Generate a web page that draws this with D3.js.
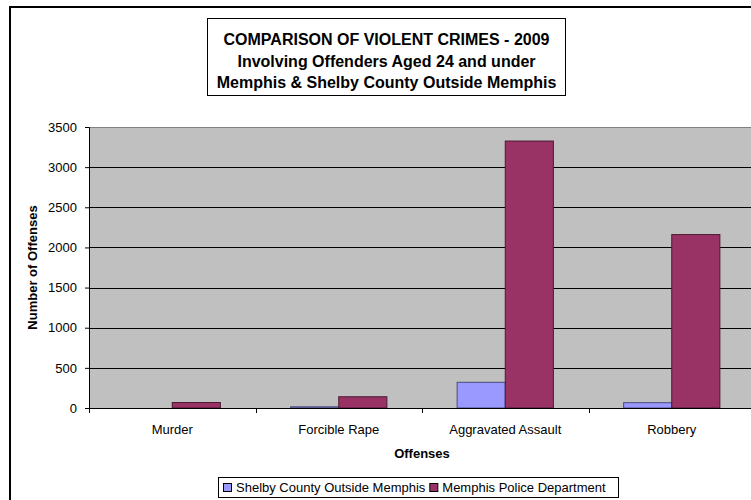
<!DOCTYPE html>
<html>
<head>
<meta charset="utf-8">
<script src="https://cdn.jsdelivr.net/npm/d3@7"></script>
<style>
  body { margin: 0; background: #fff; }
  svg { display: block; font-family: "Liberation Sans", Arial, sans-serif; }
</style>
</head>
<body>
<script>
// chart data
var categories = ["Murder", "Forcible Rape", "Aggravated Assault", "Robbery"];
var seriesNames = ["Shelby County Outside Memphis", "Memphis Police Department"];
var shelbyValues = [0, 15, 320, 66];
var memphisValues = [68, 140, 3325, 2160];
var yTicks = [0, 500, 1000, 1500, 2000, 2500, 3000, 3500];
var titleLines = ["COMPARISON OF VIOLENT CRIMES - 2009",
                  "Involving Offenders Aged 24 and under",
                  "Memphis & Shelby County Outside Memphis"];

var colors = ["#9999ff", "#993366"];

var W = 751, H = 500;
var margin = {top: 127, right: -4, bottom: 92, left: 89},
    width = W - margin.left - margin.right,
    height = H - margin.top - margin.bottom;

var svg = d3.select("body").append("svg")
    .attr("width", W)
    .attr("height", H);

// outer chart frame (runs off the right/bottom of the picture)
svg.append("rect")
    .attr("x", 10).attr("y", 7)
    .attr("width", 800).attr("height", 600)
    .attr("fill", "#fff")
    .attr("stroke", "#000")
    .attr("stroke-width", 2);

var g = svg.append("g")
    .attr("transform", "translate(" + margin.left + "," + margin.top + ")");

var x = d3.scaleBand()
    .domain(categories)
    .range([0, width]);

var x1 = d3.scaleBand()
    .domain([0, 1])
    .range([0, x.bandwidth()])
    .paddingOuter(0.73);

var y = d3.scaleLinear()
    .domain([0, 3500])
    .range([height, 0]);

// plot background
g.append("rect")
    .attr("width", width)
    .attr("height", height)
    .attr("fill", "#c0c0c0");

// top border of the plot area
g.append("line")
    .attr("x1", 0).attr("x2", width)
    .attr("y1", 0.5).attr("y2", 0.5)
    .attr("stroke", "#808080");

// gridlines
g.selectAll(".grid")
    .data(yTicks.filter(function(d) { return d > 0 && d < 3500; }))
    .enter().append("line")
    .attr("x1", 0).attr("x2", width)
    .attr("y1", function(d) { return Math.round(y(d)) + 0.5; })
    .attr("y2", function(d) { return Math.round(y(d)) + 0.5; })
    .attr("stroke", "#000");

// bars
var series = [shelbyValues, memphisValues];
series.forEach(function(vals, si) {
    g.selectAll(".bar" + si)
        .data(vals)
        .enter().append("rect")
        .attr("x", function(d, i) { return x(categories[i]) + x1(si); })
        .attr("y", function(d) { return y(d); })
        .attr("width", x1.bandwidth())
        .attr("height", function(d) { return height - y(d); })
        .attr("fill", colors[si])
        .attr("stroke", d3.color(colors[si]).darker(2))
        .attr("stroke-width", 1)
        .attr("display", function(d) { return d > 0 ? null : "none"; });
});

// y axis
var yAxis = g.append("g")
    .call(d3.axisLeft(y).tickValues(yTicks).tickSize(4).tickPadding(8).tickFormat(d3.format("d")));
yAxis.select(".domain").attr("stroke", "#000");
yAxis.selectAll("text").attr("font-size", 13).attr("font-family", "Liberation Sans, Arial, sans-serif").attr("fill", "#000");

// x axis
var xAxis = g.append("g")
    .attr("transform", "translate(0," + height + ")")
    .call(d3.axisBottom(x).tickSize(0).tickPadding(17));
xAxis.select(".domain").attr("stroke", "#000");
xAxis.selectAll("text").attr("font-size", 13).attr("font-family", "Liberation Sans, Arial, sans-serif").attr("fill", "#000");
// category separator ticks
g.selectAll(".xtick")
    .data(categories)
    .enter().append("line")
    .attr("x1", function(d) { return Math.round(x(d)) + 0.5; })
    .attr("x2", function(d) { return Math.round(x(d)) + 0.5; })
    .attr("y1", height).attr("y2", height + 5)
    .attr("stroke", "#000");

// axis titles
svg.append("text")
    .attr("transform", "translate(37," + (margin.top + height / 2) + ") rotate(-90)")
    .attr("text-anchor", "middle")
    .attr("font-size", 13)
    .attr("font-weight", "bold")
    .text("Number of Offenses");

svg.append("text")
    .attr("x", margin.left + width / 2)
    .attr("y", 458)
    .attr("text-anchor", "middle")
    .attr("font-size", 13)
    .attr("font-weight", "bold")
    .text("Offenses");

// title box
var titleG = svg.append("g");
titleG.append("rect")
    .attr("x", 207.5).attr("y", 18.5)
    .attr("width", 358).attr("height", 77)
    .attr("fill", "#fff")
    .attr("stroke", "#000");
titleG.selectAll("text")
    .data(titleLines)
    .enter().append("text")
    .attr("x", 386.5)
    .attr("y", function(d, i) { return 45 + i * 21.5; })
    .attr("text-anchor", "middle")
    .attr("font-size", 16)
    .attr("font-weight", "bold")
    .text(function(d) { return d; });

// legend
var legend = svg.append("g");
legend.append("rect")
    .attr("x", 218.5).attr("y", 477.5)
    .attr("width", 400).attr("height", 20)
    .attr("fill", "#fff")
    .attr("stroke", "#000");
var lx = 223;
seriesNames.forEach(function(name, i) {
    legend.append("rect")
        .attr("x", lx + 0.5).attr("y", 483.5)
        .attr("width", 8).attr("height", 8)
        .attr("fill", colors[i])
        .attr("stroke", "#000");
    var t = legend.append("text")
        .attr("x", lx + 13)
        .attr("y", 492)
        .attr("font-size", 13)
        .text(name);
    lx += 13 + t.node().getComputedTextLength() + 4;
});
</script>
</body>
</html>
